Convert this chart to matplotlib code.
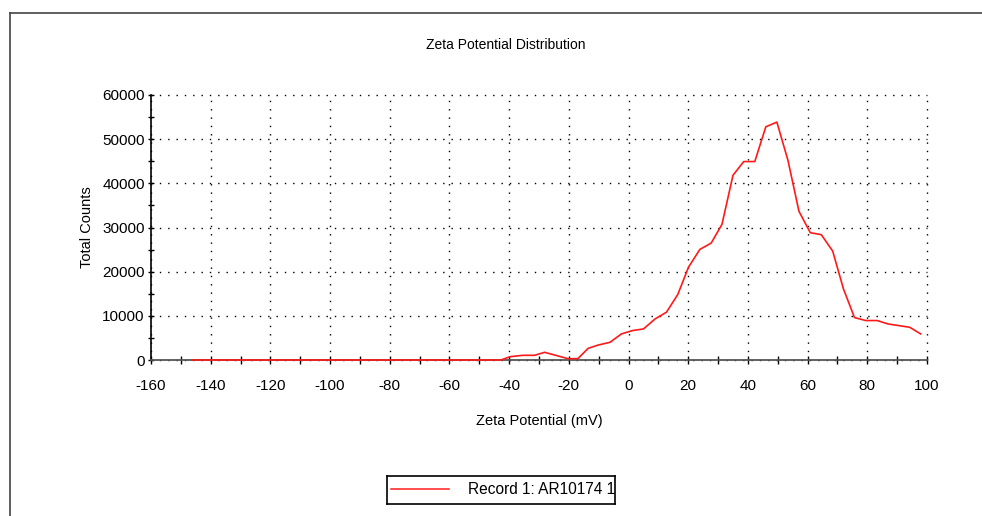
import matplotlib
matplotlib.use("Agg")
import matplotlib.pyplot as plt
from matplotlib.ticker import MultipleLocator
from matplotlib.lines import Line2D

plt.rcParams['font.family'] = ['Liberation Sans', 'DejaVu Sans']
plt.rcParams['axes.unicode_minus'] = False

# zeta potential (mV) and total counts
zeta_mv = [-146.3, -42.8, -39.6, -35.4, -31.5, -28.1, -24.2, -20.3, -17.0, -13.5,
           -10.1, -6.2, -2.4, 1.3, 5.0, 8.9, 12.7, 16.5, 20.1, 23.9,
           27.7, 31.3, 35.0, 38.6, 42.3, 46.0, 49.7, 53.4, 57.1, 60.9,
           64.6, 68.4, 72.0, 75.7, 79.5, 83.3, 86.9, 90.5, 94.2, 97.9]
counts = [0, 0, 760, 1060, 1060, 1740, 1020, 300, 300, 2650,
          3400, 4010, 5900, 6660, 7030, 9300, 10820, 14830, 21030, 25040,
          26480, 30710, 41830, 44930, 44930, 52800, 53860, 45230, 33660, 28820,
          28370, 24660, 16110, 9610, 8930, 8930, 8170, 7790, 7410, 5900]
record_label = "Record 1: AR10174 1"

W, H = 982, 516
fig = plt.figure(figsize=(W / 100, H / 100), dpi=100)

# outer frame (top and left edges only visible)
frame_col = "#444444"
fig.add_artist(Line2D([10 / W, 1.0], [1 - 12.7 / H, 1 - 12.7 / H],
                      transform=fig.transFigure, color=frame_col, lw=1.2))
fig.add_artist(Line2D([10 / W, 10 / W], [0, 1 - 12.7 / H],
                      transform=fig.transFigure, color=frame_col, lw=1.2))

ax = fig.add_axes([151 / W, 1 - 360 / H, (927 - 151) / W, (360 - 95) / H])
ax.plot(zeta_mv, counts, color="#ff1a1a", lw=1.2, zorder=4, clip_on=False)

ax.set_xlim(-160, 100)
ax.set_ylim(0, 60000)
ax.xaxis.set_major_locator(MultipleLocator(20))
ax.xaxis.set_minor_locator(MultipleLocator(10))
ax.yaxis.set_major_locator(MultipleLocator(10000))
ax.yaxis.set_minor_locator(MultipleLocator(5000))
ax.tick_params(which="both", direction="inout", length=6, width=1.0, colors="black",
               labelsize=11)
ax.tick_params(axis="x", which="both", pad=11)
ax.tick_params(axis="y", which="both", length=5, pad=2)

for s in ("top", "right"):
    ax.spines[s].set_visible(False)
ax.spines["left"].set_color("black")
ax.spines["left"].set_linewidth(1.2)
ax.spines["bottom"].set_color("#555555")
ax.spines["bottom"].set_linewidth(1.3)

ax.grid(True, which="major", color="black", lw=1.0, linestyle=(0, (1, 5)))
ax.set_axisbelow(True)
for gl in ax.get_xgridlines() + ax.get_ygridlines():
    gl.set_clip_on(False)

ax.set_xlabel("Zeta Potential (mV)", fontsize=10.5, labelpad=15)
ax.set_ylabel("Total Counts", fontsize=10.5, labelpad=6)
fig.text(506 / W, 1 - 45 / H, "Zeta Potential Distribution", fontsize=10,
         ha="center", va="center")

# legend box, text clipped at the right edge like the original
lg = fig.add_axes([387 / W, 1 - 504 / H, (615 - 387) / W, (504 - 476) / H])
lg.set_xlim(387, 615)
lg.set_ylim(504, 476)
lg.set_xticks([])
lg.set_yticks([])
for s in lg.spines.values():
    s.set_color("black")
    s.set_linewidth(1.2)
lg.plot([391, 449], [489, 489], color="#ff1a1a", lw=1.1)
lg.text(468, 490, record_label, fontsize=11.2, ha="left", va="center", clip_on=True)

fig.savefig("out.png", dpi=100)
